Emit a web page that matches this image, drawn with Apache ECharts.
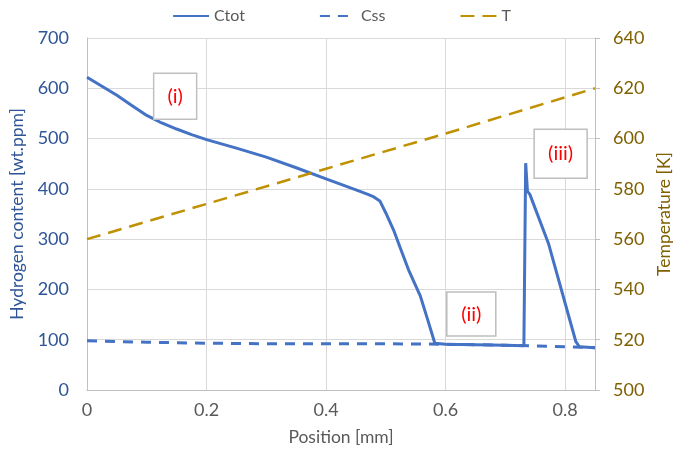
<!DOCTYPE html>
<html>
<head>
<meta charset="utf-8">
<script src="https://cdn.jsdelivr.net/npm/echarts@6/dist/echarts.min.js"></script>
<style>html,body{margin:0;padding:0;background:#fff}#c{width:683px;height:455px}</style>
</head>
<body>
<div id="c"></div>
<script>
// Data
const ctotX = [0, 0.025, 0.05, 0.075, 0.1, 0.125, 0.15, 0.175, 0.2, 0.25, 0.3, 0.35, 0.4, 0.45, 0.47, 0.48, 0.49, 0.5, 0.513, 0.525, 0.538, 0.558, 0.57, 0.582, 0.6, 0.65, 0.7, 0.731, 0.734, 0.737, 0.741, 0.772, 0.818, 0.824, 0.85];
const ctotY = [622, 604, 586, 566, 546, 531, 519, 508, 498, 481, 463, 442, 420, 398, 389, 384, 376, 352, 318, 280, 239, 186, 140, 93, 91, 90, 89, 88, 451, 395, 389, 292, 96, 86, 84];
const cssX = [0, 0.1, 0.2, 0.3, 0.4, 0.5, 0.6, 0.7, 0.8, 0.85];
const cssY = [98, 95, 93, 92, 92, 92, 91, 89, 86, 84];
const tX = [0, 0.2, 0.4, 0.6, 0.85];
const tY = [560, 574, 588, 602, 620];
const annotX = [0.1475, 0.643, 0.7925];
const annotY = [584, 151, 470];
const annotText = ['(i)', '(ii)', '(iii)'];
const annotSize = [[43, 46], [49, 44], [53, 49]];
const xTicks = [0, 0.2, 0.4, 0.6, 0.8];

const zip = (a, b) => a.map((v, i) => [v, b[i]]);
const FONT = 'Lato';
const chart = echarts.init(document.getElementById('c'), null, {renderer: 'canvas'});
chart.setOption({
  animation: false,
  textStyle: {fontFamily: FONT},
  legend: {
    top: 3, left: 'center', itemGap: 74, itemWidth: 36, itemHeight: 14,
    itemStyle: {opacity: 0},
    textStyle: {fontFamily: FONT, fontSize: 16, color: '#595959'},
    data: ['Ctot', 'Css', 'T']
  },
  grid: {left: 87, right: 88, top: 38, bottom: 65},
  xAxis: {
    type: 'value', min: 0, max: 0.85, interval: 0.2,
    name: 'Position [mm]', nameLocation: 'middle', nameGap: 38,
    nameTextStyle: {fontFamily: FONT, fontSize: 17.5, color: '#595959'},
    axisLine: {show: true, lineStyle: {color: '#BFBFBF', width: 1}},
    axisTick: {show: false},
    axisLabel: {fontFamily: FONT, fontSize: 18, color: '#595959', margin: 11,
      formatter: v => xTicks.indexOf(Math.round(v * 10) / 10) >= 0 ? String(Math.round(v * 10) / 10) : ''},
    splitLine: {show: true, lineStyle: {color: '#D9D9D9', width: 1}}
  },
  yAxis: [{
    type: 'value', min: 0, max: 700, interval: 100, position: 'left',
    name: 'Hydrogen content [wt.ppm]', nameLocation: 'middle', nameGap: 53, nameRotate: 90,
    nameTextStyle: {fontFamily: FONT, fontSize: 17.5, color: '#2F5597'},
    axisLine: {show: true, lineStyle: {color: '#BFBFBF', width: 1}},
    axisTick: {show: false},
    axisLabel: {fontFamily: FONT, fontSize: 18, color: '#2F5597', margin: 18},
    splitLine: {show: true, lineStyle: {color: '#D9D9D9', width: 1}}
  }, {
    type: 'value', min: 500, max: 640, interval: 20, position: 'right',
    name: 'Temperature [K]', nameLocation: 'middle', nameGap: 56, nameRotate: 90,
    nameTextStyle: {fontFamily: FONT, fontSize: 17.5, color: '#7F6000'},
    axisLine: {show: true, lineStyle: {color: '#BFBFBF', width: 1}},
    axisTick: {show: true, length: 5, lineStyle: {color: '#BFBFBF'}},
    axisLabel: {fontFamily: FONT, fontSize: 18, color: '#7F6000', margin: 18},
    splitLine: {show: false}
  }],
  series: [{
    name: 'Ctot', type: 'line', yAxisIndex: 0, showSymbol: false, symbol: 'none', z: 4,
    lineStyle: {color: '#4472C4', width: 3}, itemStyle: {color: '#4472C4'},
    data: zip(ctotX, ctotY),
    markPoint: {
      symbol: 'rect', silent: true,
      itemStyle: {color: '#FFFFFF', borderColor: '#BFBFBF', borderWidth: 1.5, opacity: 1},
      label: {show: true, position: 'inside', color: '#FF0000', fontFamily: FONT, fontSize: 20},
      data: annotText.map((t, i) => ({coord: [annotX[i], annotY[i]], value: t, symbolSize: annotSize[i],
        label: {formatter: t}}))
    }
  }, {
    name: 'Css', type: 'line', yAxisIndex: 0, showSymbol: false, symbol: 'none', z: 3,
    lineStyle: {color: '#4472C4', width: 3, type: [10, 8]}, itemStyle: {color: '#4472C4'},
    data: zip(cssX, cssY)
  }, {
    name: 'T', type: 'line', yAxisIndex: 1, showSymbol: false, symbol: 'none', z: 5,
    lineStyle: {color: '#BF9000', width: 2.5, type: [14, 8]}, itemStyle: {color: '#BF9000'},
    data: zip(tX, tY)
  }]
});
</script>
</body>
</html>
